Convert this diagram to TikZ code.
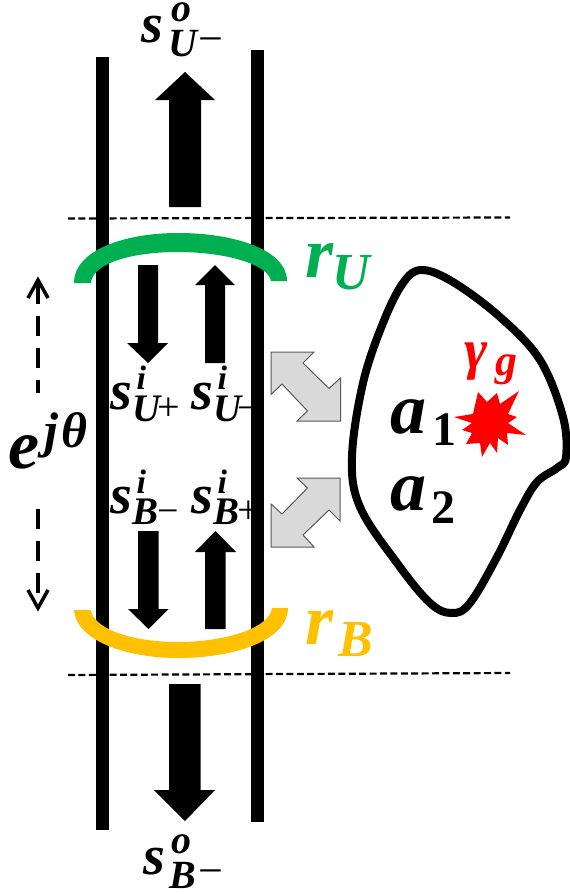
\documentclass[tikz,border=0pt]{standalone}
\usepackage{fontspec}
\setmainfont{Liberation Serif}
\newcommand\piece[4]{\rlap{\kern#1pt\raisebox{-#2pt}{\fontsize{#3pt}{#3pt}\selectfont #4}}}
\newcommand\mi[1]{\bfseries\itshape #1}
\newcommand\up[1]{\normalfont #1}
\newcommand\num[1]{\bfseries\upshape #1}
\definecolor{grn}{HTML}{00B050}
\definecolor{org}{HTML}{FFC000}
\definecolor{gry}{HTML}{D9D9D9}
\tikzset{
  rail/.style={line width=12.5pt,black},
  sep/.style={line width=2.2pt,dash pattern=on 7pt off 3.4pt,black},
  flow/.style={fill=black,draw=none},
  port/.style={fill=gry,draw=black!65,line width=1pt,line join=miter},
  phase/.style={line width=4pt,dash pattern=on 20pt off 12pt,black},
  barb/.style={line width=3.5pt,black,line join=miter},
  lab/.style={inner sep=0pt,outer sep=0pt,anchor=base west},
}
\begin{document}
\begin{tikzpicture}[x=1pt,y=-1pt]
\useasboundingbox[fill=white] (0,0) rectangle (570,894);
% rails
\coordinate (la) at (102.5,57); \coordinate (lb) at (102.5,830);
\coordinate (ra) at (257.5,50); \coordinate (rb) at (257.5,822);
\draw[rail] (la) -- (lb);
\draw[rail] (ra) -- (rb);
% dashed levels
\coordinate (t1) at (68,218.5); \coordinate (t2) at (510,217.5);
\coordinate (b1) at (68,675); \coordinate (b2) at (510,673);
\draw[sep] (t1) -- (t2);
\draw[sep] (b1) -- (b2);
% mirrors
\fill[grn] (74,283) .. controls (74,250) and (125,233) .. (178,233)
  .. controls (235,233) and (287,250) .. (287,281) -- (271,281)
  .. controls (268,264) and (225,252) .. (178,252)
  .. controls (130,252) and (92,264) .. (91,283) -- cycle;
\fill[org] (74,610) .. controls (76,640) and (125,658) .. (178,658)
  .. controls (235,658) and (288,640) .. (288,608) -- (272,608)
  .. controls (270,628) and (225,642) .. (178,642)
  .. controls (130,642) and (93,628) .. (91,610) -- cycle;
% big arrows
\fill[flow] (185,72) -- (215,100) -- (201,100) -- (201,207) -- (169,207) -- (169,100) -- (155,100) -- cycle;
\fill[flow] (185,821) -- (215,790) -- (200.5,790) -- (200.5,684) -- (169,684) -- (169,790) -- (154,790) -- cycle;
% small arrows
\fill[flow] (148,363) -- (168,343) -- (158,343) -- (158,265) -- (138,265) -- (138,343) -- (127,343) -- cycle;
\fill[flow] (215,265) -- (235,285) -- (225,285) -- (225,363) -- (205,363) -- (205,285) -- (195,285) -- cycle;
\fill[flow] (148.5,629) -- (168.5,609) -- (158.5,609) -- (158.5,531) -- (138,531) -- (138,609) -- (128,609) -- cycle;
\fill[flow] (215.5,531) -- (236,552) -- (225.5,552) -- (225.5,629) -- (205,629) -- (205,552) -- (195,552) -- cycle;
% grey double arrows
\draw[port] (271,352) -- (314,352) -- (303,363) -- (329,388.5) -- (340.5,378) -- (340.5,421) -- (297,421) -- (307.5,411) -- (282,384) -- (271,394.5) -- cycle;
\draw[port] (297,478) -- (340,478) -- (340,521) -- (329,510) -- (303,535) -- (314,547) -- (271,547) -- (271,504) -- (282,514) -- (307.5,488) -- cycle;
% phase arrows
\coordinate (pu1) at (38,393); \coordinate (pu2) at (38,279);
\coordinate (pd1) at (38,509); \coordinate (pd2) at (38,608);
\draw[phase,dash phase=7pt] (pu1) -- (pu2);
\draw[barb] (28,298) -- (38,280) -- (48,298);
\draw[phase] (pd1) -- (pd2);
\draw[barb] (28,590) -- (38,608) -- (48,590);
% scatterer outline
\draw[line width=8pt,black,line join=round] plot[smooth cycle,tension=0.6] coordinates {
 (421.7,270) (453,282) (500,317) (540,360) (563,417) (566,457) (557,468) (537,482)
 (520,510) (497,557) (470,603) (452,613) (430,603) (397,563) (360,507) (352,457)
 (363,383) (383,323) (403,283)};
% burst
\fill[red] (454,417) -- (473,414) -- (478,392) -- (487,402) -- (497,393) -- (500,404) -- (519,391)
 -- (508,414) -- (517,417) -- (508,423) -- (526,435) -- (507,433) -- (508,445) -- (498,438)
 -- (497,453) -- (490,443) -- (482,457) -- (480,443) -- (466,444) -- (472,433) -- (462,430) -- (472,423) -- cycle;
% labels
\node[lab] (so) at (141,42) {\mi{\piece{0}{0}{56}{s}\piece{30}{-21}{40}{o}\piece{27}{14}{40}{U}\piece{57}{11}{44}{\up{−}}}};
\node[lab] (sb) at (143,874) {\mi{\piece{0}{0}{56}{s}\piece{28}{-21}{40}{o}\piece{26}{14}{40}{B}\piece{55}{11}{44}{\up{−}}}};
\node[lab] (up1) at (110,409) {\mi{\piece{0}{0}{56}{s}\piece{26}{-20}{34}{i}\piece{22}{12}{39}{U}\piece{47}{11}{40}{\up{+}}}};
\node[lab] (um1) at (191,409) {\mi{\piece{0}{0}{56}{s}\piece{26}{-20}{34}{i}\piece{22}{12}{39}{U}\piece{46}{11}{38}{\up{−}}}};
\node[lab] (bm1) at (110,513) {\mi{\piece{0}{0}{56}{s}\piece{26}{-20}{34}{i}\piece{22}{11}{39}{B}\piece{47}{10}{38}{\up{−}}}};
\node[lab] (bp1) at (191,513) {\mi{\piece{0}{0}{56}{s}\piece{26}{-20}{34}{i}\piece{22}{11}{39}{B}\piece{46}{10}{40}{\up{+}}}};
\node[lab,text=grn] (ru) at (305,277) {\mi{\piece{0}{0}{72}{r}\piece{27}{12}{52}{U}}};
\node[lab,text=org] (rb2) at (305,644) {\mi{\piece{0}{0}{72}{r}\piece{33}{12}{52}{B}}};
\node[lab] (phi) at (8,468) {\mi{\piece{0}{0}{70}{e}\piece{36}{-21}{50}{j}\piece{53}{-21}{50}{θ}}};
\node[lab] (a1) at (390,433) {\mi{\piece{0}{0}{72}{a}\piece{42}{12}{48}{\num{1}}}};
\node[lab] (a2) at (390,510) {\mi{\piece{0}{0}{72}{a}\piece{41}{13}{48}{\num{2}}}};
\node[lab,text=red] (gm) at (464,368) {\mi{\piece{0}{0}{56}{γ}\piece{31}{7}{44}{g}}};
\end{tikzpicture}
\end{document}
